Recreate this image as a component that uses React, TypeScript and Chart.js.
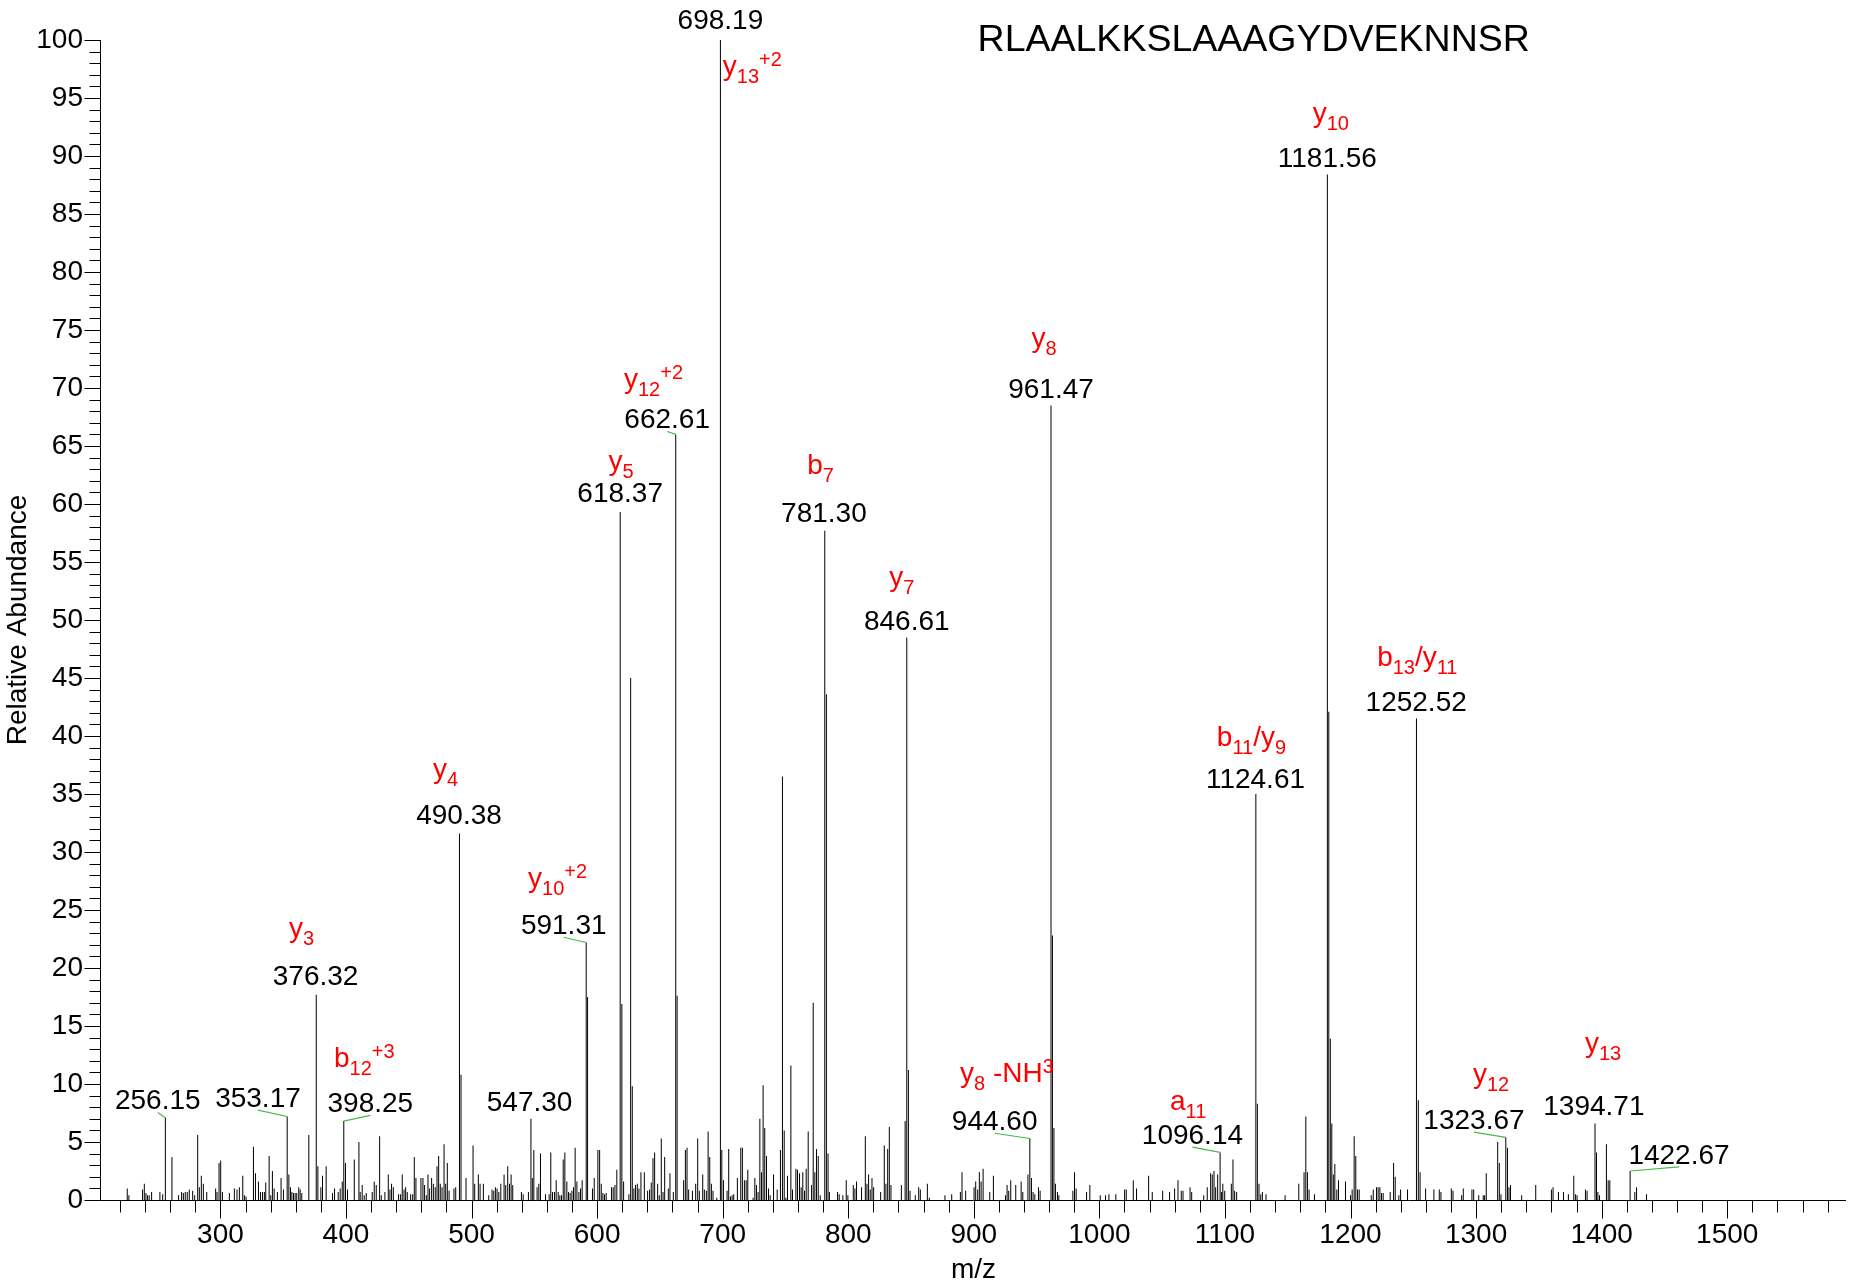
import React, { useEffect, useRef } from 'react';
import { Chart, registerables } from 'chart.js';

Chart.register(...registerables);

const FONT = "'Liberation Sans', Arial, Helvetica, sans-serif";

// ---------------- data: [m/z, relative abundance %] ----------------
const peaks200to430: [number, number][] = [
  [225.8, 1.0], [227.1, 0.4], [238.0, 0.9], [239.4, 1.4], [240.7, 0.6], [242.0, 0.4], [243.3, 0.4], [245.2, 0.7],
  [251.8, 0.7], [254.0, 0.5], [256.15, 7.1], [261.4, 3.7], [266.7, 0.4], [269.1, 0.7], [270.5, 0.6], [272.0, 0.7],
  [273.6, 0.7], [275.2, 0.9], [277.9, 0.8], [279.5, 0.4], [281.9, 5.6], [283.2, 1.1], [284.8, 2.1], [286.4, 1.4],
  [289.1, 0.7], [296.2, 1.0], [297.3, 0.7], [298.9, 3.2], [300.2, 3.4], [301.6, 0.7], [307.1, 0.6], [311.1, 1.0],
  [313.2, 0.9], [315.1, 1.1], [317.8, 2.1], [319.1, 0.4], [320.4, 0.3], [326.3, 4.6], [327.9, 2.3], [330.3, 1.6],
  [331.9, 0.7], [333.5, 0.7], [335.0, 0.7], [336.1, 1.5], [338.8, 3.8], [340.1, 0.4], [341.4, 2.5], [342.8, 1.0],
  [345.4, 0.7], [348.3, 1.9], [350.2, 0.9], [353.17, 7.2], [354.5, 2.2], [355.8, 1.1], [356.9, 0.7], [358.2, 0.6],
  [359.5, 0.6], [360.8, 0.6], [362.4, 1.1], [363.5, 0.9], [364.8, 0.6], [370.4, 5.6], [376.32, 17.7], [377.6, 2.9],
  [380.0, 1.1], [381.3, 2.1], [384.2, 2.9], [389.3, 0.6], [390.9, 1.0], [393.8, 0.7], [395.4, 1.0], [397.0, 1.6],
  [398.25, 6.8], [399.6, 3.2], [401.2, 0.9], [406.6, 3.5], [410.3, 5.0], [411.3, 0.7], [412.9, 1.3], [414.5, 0.4],
  [416.1, 0.6], [420.9, 0.7], [422.5, 1.6], [424.1, 1.3], [426.8, 5.5],
];

const peaks430to646: [number, number][] = [
  [428.1, 0.4], [431.0, 0.7], [433.7, 2.2], [435.0, 0.9], [436.3, 1.4], [437.7, 1.1], [441.9, 0.5], [443.5, 0.5],
  [444.8, 2.2], [446.2, 0.9], [447.5, 1.1], [448.8, 0.7], [451.5, 0.5], [453.1, 0.5], [454.4, 3.7], [455.7, 1.9],
  [459.7, 1.9], [461.3, 1.9], [462.6, 1.3], [464.0, 0.4], [465.3, 2.2], [466.6, 1.0], [468.2, 1.9], [469.6, 1.4],
  [471.1, 1.1], [472.5, 2.9], [473.8, 3.8], [475.1, 1.4], [476.5, 1.1], [478.1, 4.8], [479.4, 1.4], [480.7, 3.2],
  [482.1, 0.8], [486.0, 1.0], [487.4, 1.1], [490.38, 31.6], [491.6, 10.8], [495.6, 1.9], [501.2, 4.7], [502.5, 1.4],
  [505.4, 2.2], [506.8, 1.4], [509.4, 1.4], [513.7, 0.4], [516.3, 0.9], [517.7, 0.8], [519.0, 1.1], [520.3, 1.0],
  [521.7, 0.7], [523.3, 1.4], [525.9, 2.2], [527.2, 1.3], [528.8, 2.9], [530.2, 1.4], [531.5, 2.2], [532.8, 1.3],
  [539.7, 0.7], [541.1, 0.5], [545.3, 0.7], [547.30, 7.0], [548.4, 1.9], [549.6, 4.3], [552.2, 1.1], [553.6, 1.4],
  [554.9, 4.0], [558.9, 0.5], [561.8, 0.5], [563.1, 4.1], [564.5, 0.7], [566.1, 0.7], [567.4, 1.7], [569.0, 0.7],
  [570.3, 0.4], [571.6, 0.4], [573.0, 3.5], [574.3, 4.1], [575.9, 1.6], [577.2, 0.7], [578.5, 0.6], [579.9, 0.8],
  [581.2, 1.1], [582.5, 4.5], [583.9, 1.6], [585.5, 0.7], [586.8, 1.0], [588.1, 1.7], [591.31, 22.2], [592.4, 17.5],
  [596.3, 1.0], [597.7, 1.9], [600.6, 4.3], [602.0, 4.3], [603.3, 1.4], [604.6, 0.6], [605.9, 0.5], [607.2, 0.6],
  [611.5, 1.1], [612.8, 1.1], [614.2, 1.3], [615.7, 2.6], [618.37, 59.3], [619.7, 16.9], [621.1, 1.6], [625.3, 0.5],
  [626.7, 45.0], [628.0, 9.8], [629.3, 1.0], [630.6, 1.3], [632.0, 1.4], [633.3, 1.0], [634.9, 2.4], [637.6, 2.4],
  [640.2, 0.8], [641.8, 0.9], [643.1, 1.5], [644.5, 3.6], [645.8, 4.1],
];

const peaks646to864: [number, number][] = [
  [648.2, 1.4], [649.5, 0.4], [651.1, 5.3], [652.5, 0.7], [653.8, 3.7], [656.7, 1.0], [658.0, 2.3], [660.7, 0.7],
  [662.61, 66.0], [663.7, 17.6], [668.9, 1.7], [670.3, 4.3], [671.6, 4.5], [672.9, 0.9], [675.9, 0.8], [678.5, 1.4],
  [680.1, 5.3], [681.4, 0.8], [684.1, 2.2], [685.4, 0.9], [687.0, 0.8], [688.4, 5.9], [689.7, 3.7], [691.0, 1.4],
  [692.3, 0.8], [695.3, 0.2], [698.19, 100], [699.3, 4.3], [700.6, 1.7], [703.5, 0.8], [704.8, 4.4], [706.2, 0.3],
  [707.5, 0.4], [708.8, 0.5], [711.7, 1.9], [714.4, 4.5], [715.7, 4.5], [717.3, 1.7], [718.7, 1.7], [720.0, 2.6],
  [724.2, 0.2], [725.6, 1.9], [726.9, 1.3], [728.2, 0.7], [729.6, 7.0], [730.9, 2.4], [732.2, 9.9], [733.5, 6.2],
  [734.9, 3.8], [736.5, 1.0], [737.8, 0.4], [740.5, 2.2], [743.4, 0.9], [746.0, 4.3], [747.6, 36.5], [749.0, 6.0],
  [750.3, 0.2], [751.6, 2.1], [754.3, 11.6], [755.6, 0.9], [758.3, 2.7], [759.6, 2.6], [761.2, 2.3], [762.5, 1.1],
  [763.8, 2.4], [765.2, 0.8], [766.5, 2.7], [768.1, 5.9], [770.8, 1.3], [772.1, 17.0], [773.4, 2.4], [774.7, 4.4],
  [776.1, 3.8], [777.7, 0.4], [781.30, 57.7], [782.6, 43.6], [783.9, 4.0], [785.0, 0.7], [791.5, 0.7], [792.8, 0.5],
  [795.7, 0.4], [798.4, 1.7], [799.7, 0.4], [804.0, 1.3], [805.3, 1.0], [806.6, 1.6], [810.6, 1.1], [813.6, 5.5],
  [814.9, 1.4], [816.2, 2.2], [817.5, 0.9], [818.9, 1.9], [820.2, 1.1], [825.8, 0.7], [828.7, 4.7], [830.0, 1.4],
  [831.4, 4.4], [832.7, 6.3], [834.0, 1.3], [842.3, 1.3], [845.3, 6.8], [846.61, 48.5], [847.9, 11.2], [849.2, 0.8],
  [853.4, 0.4], [856.1, 1.1], [857.4, 0.9], [863.0, 1.4],
];

const peaks864to1084: [number, number][] = [
  [864.6, 0.2], [877.0, 0.4], [882.4, 0.5], [889.3, 0.7], [890.6, 2.4], [893.5, 0.8], [900.2, 1.1], [901.5, 1.6],
  [903.1, 0.9], [904.4, 2.4], [905.8, 1.6], [907.4, 2.7], [912.7, 0.7], [915.6, 2.1], [925.2, 0.4], [926.5, 1.3],
  [927.8, 0.8], [929.4, 1.7], [933.4, 1.3], [937.7, 1.6], [939.0, 0.7], [943.1, 2.2], [944.60, 5.3], [945.9, 1.9],
  [947.2, 0.7], [948.6, 0.5], [951.5, 1.1], [952.8, 0.8], [961.47, 68.5], [962.6, 22.8], [963.8, 6.2], [965.0, 1.4],
  [966.6, 0.7], [967.7, 0.4], [978.9, 0.8], [980.2, 2.4], [981.5, 1.0], [989.8, 0.7], [992.4, 1.3], [1000.7, 0.4],
  [1004.9, 0.4], [1007.6, 0.5], [1013.1, 0.5], [1020.1, 0.9], [1021.4, 0.9], [1027.0, 1.7], [1029.6, 1.0], [1039.2, 2.1],
  [1042.1, 0.7], [1050.4, 0.8], [1055.9, 0.7], [1059.9, 1.0], [1062.6, 1.7], [1065.2, 0.8], [1066.6, 0.8], [1072.2, 1.1],
  [1073.5, 0.7], [1083.1, 0.4],
];

const peaks1084to1302: [number, number][] = [
  [1085.9, 1.1], [1088.6, 2.3], [1089.9, 2.2], [1091.3, 2.5], [1092.6, 1.1], [1094.2, 2.2], [1096.14, 4.1], [1097.3, 0.7],
  [1098.3, 1.4], [1099.8, 0.8], [1105.1, 1.4], [1106.4, 3.5], [1107.7, 0.8], [1109.3, 0.7], [1124.61, 35.0], [1125.8, 8.3],
  [1127.1, 1.4], [1128.5, 0.5], [1129.8, 0.7], [1132.7, 0.5], [1147.9, 0.4], [1158.8, 1.4], [1163.0, 2.4], [1164.4, 7.2],
  [1165.7, 2.4], [1167.0, 0.9], [1171.3, 0.5], [1181.56, 88.4], [1182.7, 42.1], [1183.9, 13.9], [1185.1, 6.6], [1186.3, 2.2],
  [1187.5, 3.1], [1189.1, 0.9], [1190.4, 1.7], [1196.0, 1.6], [1200.0, 0.4], [1201.3, 0.9], [1202.9, 5.5], [1204.2, 3.8],
  [1205.6, 0.9], [1206.9, 0.9], [1216.5, 0.4], [1218.1, 0.9], [1220.7, 1.1], [1222.0, 1.1], [1223.4, 1.1], [1224.7, 0.6],
  [1226.0, 0.6], [1231.6, 0.7], [1234.3, 3.2], [1235.6, 2.0], [1238.5, 0.4], [1239.9, 0.9], [1245.4, 0.9], [1252.52, 41.5],
  [1254.0, 8.6], [1255.4, 2.4], [1259.8, 1.0], [1266.4, 0.9], [1270.7, 0.9], [1272.0, 0.7], [1280.3, 1.0], [1281.6, 0.8],
  [1288.5, 0.4], [1289.8, 1.0], [1296.7, 0.9], [1298.1, 0.9], [1302.1, 0.4],
];

const peaks1302to1440: [number, number][] = [
  [1305.7, 0.4], [1306.8, 0.4], [1308.1, 2.3], [1317.2, 5.0], [1318.5, 3.2], [1319.8, 0.5], [1323.67, 5.4], [1325.0, 4.5],
  [1326.2, 1.1], [1327.4, 1.3], [1336.3, 0.4], [1347.5, 1.3], [1360.0, 0.9], [1361.3, 1.1], [1365.6, 0.7], [1369.6, 0.7],
  [1373.5, 0.5], [1377.8, 2.1], [1379.1, 0.5], [1380.4, 0.4], [1387.1, 0.9], [1388.4, 0.8], [1394.71, 6.6], [1395.9, 4.1],
  [1397.0, 0.7], [1398.3, 0.4], [1403.8, 4.8], [1405.2, 1.7], [1406.5, 1.7], [1422.67, 2.5], [1426.4, 0.7], [1427.8, 1.1],
  [1435.7, 0.5],
];

const allPeaks: [number, number][] = [
  ...peaks200to430, ...peaks430to646, ...peaks646to864,
  ...peaks864to1084, ...peaks1084to1302, ...peaks1302to1440,
];

const xTickLabels = [300, 400, 500, 600, 700, 800, 900, 1000, 1100, 1200, 1300, 1400, 1500];
const yTickLabels = [0, 5, 10, 15, 20, 25, 30, 35, 40, 45, 50, 55, 60, 65, 70, 75, 80, 85, 90, 95, 100];

const sequenceTitle = 'RLAALKKSLAAAGYDVEKNNSR';
const xAxisTitle = 'm/z';
const yAxisTitle = 'Relative Abundance';

type Seg = { t: string; k?: 'sub' | 'sup' };
const ionLabelTexts: Seg[][] = [
  [{ t: 'y' }, { t: '13', k: 'sub' }, { t: '+2', k: 'sup' }],
  [{ t: 'y' }, { t: '10', k: 'sub' }],
  [{ t: 'y' }, { t: '8', k: 'sub' }],
  [{ t: 'y' }, { t: '12', k: 'sub' }, { t: '+2', k: 'sup' }],
  [{ t: 'y' }, { t: '5', k: 'sub' }],
  [{ t: 'b' }, { t: '7', k: 'sub' }],
  [{ t: 'y' }, { t: '7', k: 'sub' }],
  [{ t: 'b' }, { t: '13', k: 'sub' }, { t: '/y' }, { t: '11', k: 'sub' }],
  [{ t: 'b' }, { t: '11', k: 'sub' }, { t: '/y' }, { t: '9', k: 'sub' }],
  [{ t: 'y' }, { t: '4', k: 'sub' }],
  [{ t: 'y' }, { t: '10', k: 'sub' }, { t: '+2', k: 'sup' }],
  [{ t: 'y' }, { t: '3', k: 'sub' }],
  [{ t: 'b' }, { t: '12', k: 'sub' }, { t: '+3', k: 'sup' }],
  [{ t: 'y' }, { t: '8', k: 'sub' }, { t: ' -NH' }, { t: '3', k: 'sup' }],
  [{ t: 'a' }, { t: '11', k: 'sub' }],
  [{ t: 'y' }, { t: '12', k: 'sub' }],
  [{ t: 'y' }, { t: '13', k: 'sub' }],
];

// ---------------- layout (label anchors, in axis units) ----------------
const massLabelLayout = [
  { text: '698.19', x: 698.19, y: 101.6, leader: false },
  { text: '1181.56', x: 1181.56, y: 89.7, leader: false },
  { text: '961.47', x: 961.47, y: 69.8, leader: false },
  { text: '662.61', x: 655.8, y: 67.2, leader: true },
  { text: '618.37', x: 618.37, y: 60.8, leader: false },
  { text: '781.30', x: 780.6, y: 59.1, leader: false },
  { text: '846.61', x: 846.61, y: 49.8, leader: false },
  { text: '1252.52', x: 1252.3, y: 42.8, leader: false },
  { text: '1124.61', x: 1124.3, y: 36.2, leader: false },
  { text: '490.38', x: 490.0, y: 33.1, leader: false },
  { text: '591.31', x: 573.4, y: 23.6, leader: true },
  { text: '376.32', x: 375.8, y: 19.2, leader: false },
  { text: '256.15', x: 250.1, y: 8.5, leader: true },
  { text: '353.17', x: 329.9, y: 8.7, leader: true },
  { text: '398.25', x: 419.4, y: 8.25, leader: true },
  { text: '547.30', x: 546.2, y: 8.3, leader: false },
  { text: '944.60', x: 916.6, y: 6.7, leader: true },
  { text: '1096.14', x: 1074.1, y: 5.5, leader: true },
  { text: '1323.67', x: 1298.3, y: 6.8, leader: true },
  { text: '1394.71', x: 1393.8, y: 8.0, leader: false },
  { text: '1422.67', x: 1461.6, y: 3.8, leader: true },
];

// baseline anchors for the red ion labels (same order as ionLabelTexts)
const ionLabelLayout = [
  { x: 700.1, y: 97.0, align: 'left' },
  { x: 1184.3, y: 92.9, align: 'center' },
  { x: 955.9, y: 73.5, align: 'center' },
  { x: 644.9, y: 70.0, align: 'center' },
  { x: 619.0, y: 62.9, align: 'center' },
  { x: 778.0, y: 62.6, align: 'center' },
  { x: 842.6, y: 52.9, align: 'center' },
  { x: 1253.2, y: 46.0, align: 'center' },
  { x: 1121.1, y: 39.1, align: 'center' },
  { x: 479.3, y: 36.4, align: 'center' },
  { x: 568.5, y: 27.0, align: 'center' },
  { x: 364.7, y: 22.7, align: 'center' },
  { x: 414.6, y: 11.5, align: 'center' },
  { x: 926.4, y: 10.2, align: 'center' },
  { x: 1070.7, y: 7.8, align: 'center' },
  { x: 1311.9, y: 10.1, align: 'center' },
  { x: 1401.1, y: 12.8, align: 'center' },
];
const titleAnchor = { x: 1122.9, y: 99.05 };

const LABEL_SIZE = 28;
const SMALL_SIZE = 20;
const TITLE_SIZE = 37.5;
const LEADER_COLOR = 'rgb(70,185,70)';
const ION_COLOR = '#ff0000';

function drawRich(ctx: CanvasRenderingContext2D, segs: Seg[], x: number, baseline: number, align: string) {
  const fontOf = (s: Seg) => `${s.k ? SMALL_SIZE : LABEL_SIZE}px ${FONT}`;
  const widths = segs.map((s) => { ctx.font = fontOf(s); return ctx.measureText(s.t).width; });
  const total = widths.reduce((a, b) => a + b, 0);
  let cx = align === 'left' ? x : x - total / 2;
  ctx.textAlign = 'left';
  ctx.textBaseline = 'alphabetic';
  segs.forEach((s, i) => {
    ctx.font = fontOf(s);
    const dy = s.k === 'sub' ? 8 : s.k === 'sup' ? -9 : 0;
    ctx.fillText(s.t, cx, baseline + dy);
    cx += widths[i];
  });
}

const axisPlugin = {
  id: 'msAxes',
  afterDraw(chart: any) {
    const { ctx } = chart;
    const xs = chart.scales.x;
    const ys = chart.scales.y;
    const left = Math.round(xs.left) - 0.5;
    const base = Math.round(ys.bottom) + 0.5;
    ctx.save();
    ctx.strokeStyle = '#000';
    ctx.lineWidth = 1;
    ctx.beginPath();
    ctx.moveTo(left, Math.round(ys.top));
    ctx.lineTo(left, base);
    ctx.moveTo(left, base);
    ctx.lineTo(xs.right, base);
    for (let v = 220; v <= 1580; v += 20) {
      const p = Math.round(xs.getPixelForValue(v)) + 0.5;
      const len = v % 100 === 0 ? 18 : 12;
      ctx.moveTo(p, base);
      ctx.lineTo(p, base + len);
    }
    for (let v = 0; v <= 100; v += 1) {
      const p = Math.round(ys.getPixelForValue(v)) + 0.5;
      const len = v % 5 === 0 ? 16 : 11;
      ctx.moveTo(left - len, p);
      ctx.lineTo(left, p);
    }
    ctx.stroke();
    ctx.restore();
  },
};

const annotationPlugin = {
  id: 'msAnnotations',
  afterDraw(chart: any) {
    const { ctx } = chart;
    const xs = chart.scales.x;
    const ys = chart.scales.y;
    const px = (v: number) => xs.getPixelForValue(v);
    const py = (v: number) => ys.getPixelForValue(v);
    ctx.save();
    // sequence title
    ctx.fillStyle = '#000';
    ctx.font = `${TITLE_SIZE}px ${FONT}`;
    ctx.textAlign = 'center';
    ctx.textBaseline = 'alphabetic';
    ctx.fillText(sequenceTitle, px(titleAnchor.x), py(titleAnchor.y));
    // m/z labels and leaders
    massLabelLayout.forEach((l) => {
      const cx = px(l.x);
      const cy = py(l.y);
      ctx.fillStyle = '#000';
      ctx.font = `${LABEL_SIZE}px ${FONT}`;
      ctx.textAlign = 'center';
      ctx.textBaseline = 'middle';
      ctx.fillText(l.text, cx, cy);
      if (l.leader) {
        const m = parseFloat(l.text);
        const pk = allPeaks.find((p) => Math.abs(p[0] - m) < 0.001);
        if (pk) {
          ctx.strokeStyle = LEADER_COLOR;
          ctx.lineWidth = 1.2;
          ctx.beginPath();
          ctx.moveTo(cx, cy + 11);
          ctx.lineTo(px(pk[0]), py(pk[1]));
          ctx.stroke();
        }
      }
    });
    // ion labels
    ctx.fillStyle = ION_COLOR;
    ionLabelTexts.forEach((segs, i) => {
      const a = ionLabelLayout[i];
      drawRich(ctx, segs, px(a.x), py(a.y), a.align);
    });
    ctx.restore();
  },
};

export default function App() {
  const ref = useRef<HTMLCanvasElement | null>(null);
  useEffect(() => {
    if (!ref.current) return;
    Chart.defaults.font.family = FONT;
    Chart.defaults.color = '#000';
    const chart = new Chart(ref.current, {
      type: 'bar',
      data: {
        datasets: [
          {
            data: allPeaks.map(([m, h]) => ({ x: m, y: h })),
            backgroundColor: '#000',
            borderWidth: 0,
            barThickness: 1,
            inflateAmount: 0,
            grouped: false,
          } as any,
        ],
      },
      options: {
        animation: false,
        responsive: false,
        devicePixelRatio: 1,
        events: [],
        layout: { padding: { left: 0, right: 12, top: 40, bottom: 0 } },
        plugins: {
          legend: { display: false },
          tooltip: { enabled: false },
          title: { display: false },
        },
        scales: {
          x: {
            type: 'linear',
            min: 204.9,
            max: 1594.6,
            offset: false,
            grid: { display: false, drawTicks: false },
            border: { display: false },
            afterBuildTicks: (s: any) => { s.ticks = xTickLabels.map((v) => ({ value: v })); },
            afterFit: (s: any) => { s.height = 84; },
            ticks: {
              padding: 18,
              autoSkip: false,
              maxRotation: 0,
              minRotation: 0,
              color: '#000',
              font: { size: LABEL_SIZE, family: FONT },
              callback: (v: any) => String(v),
            },
            title: {
              display: true,
              text: xAxisTitle,
              color: '#000',
              font: { size: LABEL_SIZE, family: FONT, lineHeight: 1 },
              padding: { top: 0, bottom: 0 },
            },
          },
          y: {
            type: 'linear',
            min: 0,
            max: 100,
            grid: { display: false, drawTicks: false },
            border: { display: false },
            afterBuildTicks: (s: any) => { s.ticks = yTickLabels.map((v) => ({ value: v })); },
            afterFit: (s: any) => { s.width = 101; },
            ticks: {
              padding: 18,
              autoSkip: false,
              color: '#000',
              font: { size: LABEL_SIZE, family: FONT },
              callback: (v: any) => String(v),
            },
            title: {
              display: true,
              text: yAxisTitle,
              color: '#000',
              font: { size: LABEL_SIZE, family: FONT },
              padding: { top: 1, bottom: 0 },
            },
          },
        },
      } as any,
      plugins: [axisPlugin, annotationPlugin],
    });
    return () => chart.destroy();
  }, []);

  return (
    <div style={{ position: 'absolute', left: 0, top: 0, width: 1858, height: 1284, background: '#fff' }}>
      <canvas ref={ref} width={1858} height={1284} style={{ display: 'block', width: 1858, height: 1284 }} />
    </div>
  );
}
